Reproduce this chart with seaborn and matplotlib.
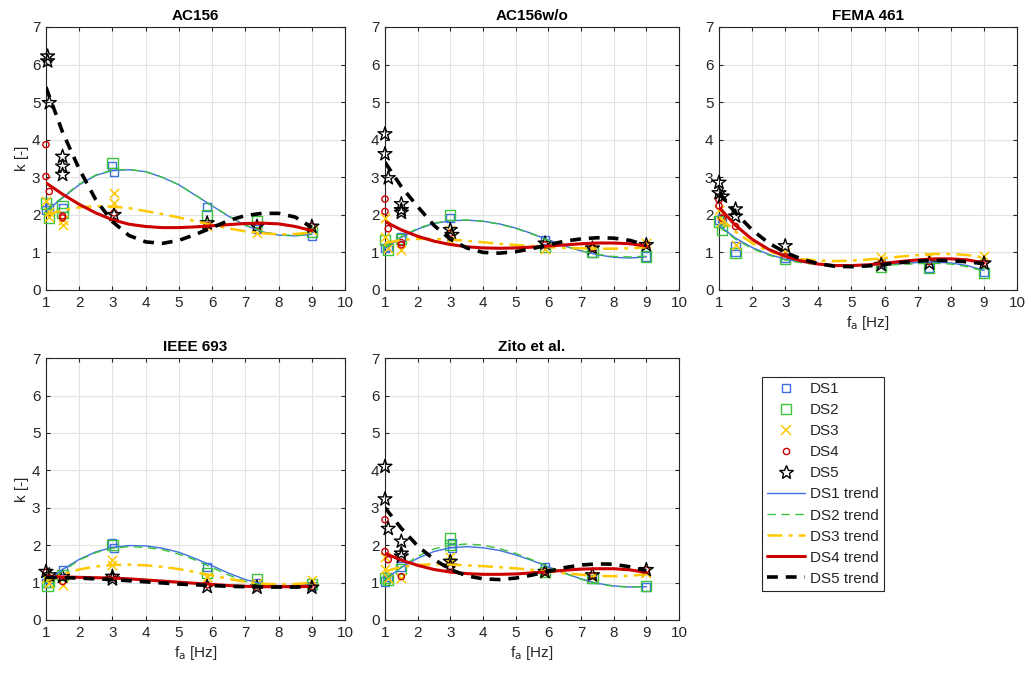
import matplotlib
matplotlib.use("Agg")
import matplotlib.pyplot as plt
from matplotlib.lines import Line2D
import seaborn as sns

sns.set_theme(style="whitegrid")
plt.rcParams["font.family"] = ["Liberation Sans", "DejaVu Sans"]

# -----------------------------
# data
# -----------------------------
series = ["DS1", "DS2", "DS3", "DS4", "DS5"]
panels = ["AC156", "AC156w/o", "FEMA 461", "IEEE 693", "Zito et al."]

# x grid where the trend curves were read
trend_x = [1, 1.5, 2, 2.5, 3, 3.5, 4, 4.5, 5, 5.5, 6, 6.5, 7, 7.5, 8, 8.5, 9]

# measured points: (x, k) per data set
ac156_pts = {
    "DS1": ([1.0, 1.1, 1.5, 3.0, 3.05, 5.85, 7.35, 9.0], [2.13, 2.18, 2.18, 3.29, 3.15, 2.22, 1.62, 1.44]),
    "DS2": ([1.0, 1.1, 1.5, 1.5, 3.0, 5.85, 7.35, 9.0], [2.30, 1.93, 2.22, 2.04, 3.38, 2.00, 1.82, 1.55]),
    "DS3": ([1.0, 1.1, 1.1, 1.5, 1.5, 3.05, 3.05, 5.85, 7.35, 9.0], [2.36, 2.07, 1.95, 1.87, 1.73, 2.58, 2.31, 1.69, 1.52, 1.60]),
    "DS4": ([1.0, 1.0, 1.1, 1.5, 1.5, 3.05, 5.85, 7.35, 9.0], [3.87, 3.02, 2.62, 1.92, 1.97, 2.05, 1.72, 1.70, 1.69]),
    "DS5": ([1.05, 1.05, 1.1, 1.5, 1.5, 1.5, 3.05, 5.85, 7.35, 9.0], [6.22, 6.09, 4.98, 3.55, 3.29, 3.07, 2.00, 1.78, 1.69, 1.69]),
}
ac156_trend = {
    "DS1": [2.10, 2.45, 2.80, 3.05, 3.18, 3.20, 3.15, 3.00, 2.80, 2.52, 2.24, 1.96, 1.72, 1.55, 1.46, 1.44, 1.48],
    "DS2": [2.12, 2.47, 2.82, 3.06, 3.19, 3.21, 3.15, 3.00, 2.80, 2.52, 2.24, 1.97, 1.73, 1.56, 1.47, 1.45, 1.49],
    "DS3": [2.00, 2.12, 2.20, 2.23, 2.22, 2.18, 2.10, 2.02, 1.93, 1.83, 1.73, 1.64, 1.56, 1.51, 1.48, 1.49, 1.53],
    "DS4": [2.85, 2.55, 2.28, 2.05, 1.87, 1.75, 1.69, 1.66, 1.66, 1.68, 1.71, 1.74, 1.77, 1.78, 1.76, 1.69, 1.58],
    "DS5": [5.40, 4.20, 3.22, 2.40, 1.82, 1.45, 1.28, 1.24, 1.32, 1.48, 1.66, 1.85, 1.98, 2.04, 2.04, 1.94, 1.67],
}

acwo_pts = {
    "DS1": ([1.0, 1.1, 1.5, 3.0, 5.9, 7.35, 9.0], [1.11, 1.14, 1.42, 1.91, 1.33, 0.98, 0.89]),
    "DS2": ([1.0, 1.1, 1.5, 3.0, 5.9, 7.35, 9.0], [1.33, 1.08, 1.35, 2.00, 1.16, 1.02, 0.89]),
    "DS3": ([1.0, 1.0, 1.1, 1.5, 3.0, 3.0, 5.9, 7.35, 9.0], [1.91, 1.42, 1.11, 1.07, 1.60, 1.33, 1.08, 1.11, 1.24]),
    "DS4": ([1.0, 1.0, 1.1, 1.5, 1.5, 3.0, 5.9, 7.35, 9.0], [2.42, 2.09, 1.63, 1.20, 1.26, 1.51, 1.20, 1.11, 1.20]),
    "DS5": ([1.0, 1.0, 1.1, 1.5, 1.5, 1.5, 3.0, 3.05, 5.9, 7.35, 9.0], [4.15, 3.62, 2.98, 2.29, 2.13, 2.06, 1.60, 1.47, 1.24, 1.11, 1.20]),
}
acwo_trend = {
    "DS1": [1.10, 1.40, 1.62, 1.77, 1.84, 1.86, 1.83, 1.76, 1.65, 1.50, 1.33, 1.17, 1.04, 0.94, 0.87, 0.85, 0.88],
    "DS2": [1.12, 1.42, 1.64, 1.78, 1.85, 1.86, 1.83, 1.75, 1.64, 1.49, 1.32, 1.17, 1.04, 0.95, 0.89, 0.88, 0.90],
    "DS3": [1.25, 1.33, 1.36, 1.36, 1.34, 1.31, 1.27, 1.23, 1.20, 1.17, 1.14, 1.12, 1.11, 1.10, 1.10, 1.11, 1.14],
    "DS4": [1.82, 1.60, 1.43, 1.30, 1.21, 1.15, 1.12, 1.11, 1.12, 1.14, 1.17, 1.20, 1.23, 1.25, 1.25, 1.23, 1.17],
    "DS5": [3.40, 2.75, 2.22, 1.72, 1.35, 1.12, 1.00, 0.98, 1.02, 1.10, 1.20, 1.30, 1.36, 1.39, 1.38, 1.32, 1.19],
}

fema_pts = {
    "DS1": ([1.0, 1.1, 1.5, 1.5, 3.0, 5.9, 7.35, 9.0], [1.87, 1.91, 1.16, 1.02, 0.84, 0.71, 0.58, 0.49]),
    "DS2": ([1.0, 1.1, 1.5, 3.0, 5.9, 7.35, 9.0], [1.82, 1.60, 0.98, 0.82, 0.62, 0.58, 0.46]),
    "DS3": ([1.0, 1.05, 1.5, 3.0, 5.9, 7.35, 9.0], [2.13, 1.82, 1.20, 1.02, 0.87, 0.89, 0.91]),
    "DS4": ([1.0, 1.0, 1.1, 1.5, 3.0, 5.9, 7.35, 9.0], [2.40, 2.24, 1.91, 1.69, 0.89, 0.71, 0.76, 0.71]),
    "DS5": ([1.0, 1.0, 1.1, 1.5, 1.5, 3.0, 5.9, 7.35, 9.0], [2.86, 2.58, 2.49, 2.15, 1.96, 1.17, 0.67, 0.71, 0.71]),
}
fema_trend = {
    "DS1": [1.72, 1.38, 1.13, 0.95, 0.82, 0.74, 0.69, 0.66, 0.65, 0.66, 0.68, 0.71, 0.73, 0.74, 0.72, 0.65, 0.52],
    "DS2": [1.68, 1.35, 1.10, 0.93, 0.80, 0.72, 0.67, 0.64, 0.63, 0.64, 0.66, 0.68, 0.70, 0.71, 0.69, 0.62, 0.50],
    "DS3": [1.95, 1.55, 1.25, 1.03, 0.90, 0.82, 0.78, 0.77, 0.78, 0.81, 0.85, 0.89, 0.93, 0.96, 0.96, 0.93, 0.86],
    "DS4": [2.20, 1.72, 1.35, 1.08, 0.90, 0.77, 0.69, 0.65, 0.65, 0.67, 0.71, 0.76, 0.80, 0.83, 0.83, 0.80, 0.72],
    "DS5": [2.60, 2.05, 1.60, 1.25, 1.00, 0.82, 0.70, 0.63, 0.62, 0.64, 0.68, 0.73, 0.77, 0.79, 0.78, 0.75, 0.70],
}

ieee_pts = {
    "DS1": ([1.0, 1.1, 1.5, 3.0, 3.05, 5.85, 7.35, 9.0], [0.98, 1.09, 1.34, 2.05, 1.92, 1.41, 0.98, 0.91]),
    "DS2": ([1.05, 1.1, 1.5, 3.0, 5.85, 7.35, 9.0], [0.91, 1.03, 1.20, 2.01, 1.25, 1.09, 0.96]),
    "DS3": ([1.0, 1.1, 1.5, 3.0, 3.0, 5.85, 7.35, 9.0], [1.12, 0.98, 0.94, 1.61, 1.47, 1.16, 0.98, 1.07]),
    "DS4": ([1.0, 1.1, 1.5, 3.0, 5.85, 7.35, 9.0], [1.27, 1.12, 1.03, 1.16, 0.94, 0.87, 0.89]),
    "DS5": ([1.0, 1.1, 1.5, 3.0, 3.0, 5.85, 7.35, 9.0], [1.29, 1.20, 1.16, 1.16, 1.09, 0.89, 0.87, 0.87]),
}
ieee_trend = {
    "DS1": [1.00, 1.35, 1.62, 1.82, 1.94, 1.99, 1.98, 1.92, 1.81, 1.64, 1.45, 1.25, 1.08, 0.97, 0.92, 0.92, 0.95],
    "DS2": [1.00, 1.30, 1.60, 1.80, 1.92, 1.96, 1.94, 1.88, 1.76, 1.60, 1.40, 1.20, 1.03, 0.94, 0.90, 0.91, 0.94],
    "DS3": [1.05, 1.22, 1.35, 1.43, 1.47, 1.48, 1.46, 1.42, 1.36, 1.28, 1.19, 1.10, 1.02, 0.97, 0.95, 0.96, 1.00],
    "DS4": [1.16, 1.15, 1.14, 1.13, 1.12, 1.10, 1.07, 1.04, 1.01, 0.98, 0.95, 0.92, 0.90, 0.89, 0.89, 0.89, 0.90],
    "DS5": [1.14, 1.13, 1.12, 1.10, 1.08, 1.05, 1.02, 0.99, 0.96, 0.94, 0.92, 0.90, 0.89, 0.88, 0.88, 0.88, 0.89],
}

zito_pts = {
    "DS1": ([1.0, 1.1, 1.5, 3.05, 3.05, 5.9, 7.35, 9.0], [1.03, 1.16, 1.43, 2.05, 1.92, 1.41, 1.09, 0.89]),
    "DS2": ([1.0, 1.1, 1.5, 3.0, 3.0, 5.9, 7.35, 9.0], [1.12, 1.07, 1.36, 2.19, 2.01, 1.29, 1.12, 0.91]),
    "DS3": ([1.0, 1.0, 1.1, 1.5, 3.0, 3.0, 5.9, 7.35, 9.0], [1.69, 1.36, 1.12, 1.12, 1.69, 1.56, 1.25, 1.16, 1.25]),
    "DS4": ([1.0, 1.0, 1.1, 1.5, 3.0, 5.9, 7.35, 9.0], [2.68, 1.83, 1.61, 1.16, 1.43, 1.29, 1.18, 1.34]),
    "DS5": ([1.0, 1.0, 1.1, 1.5, 1.5, 1.5, 3.0, 3.0, 5.9, 7.35, 9.0], [4.10, 3.23, 2.44, 2.10, 1.78, 1.70, 1.56, 1.43, 1.29, 1.20, 1.34]),
}
zito_trend = {
    "DS1": [1.08, 1.40, 1.65, 1.83, 1.93, 1.96, 1.93, 1.86, 1.74, 1.59, 1.42, 1.25, 1.10, 0.98, 0.91, 0.88, 0.89],
    "DS2": [1.08, 1.42, 1.70, 1.90, 2.00, 2.03, 2.00, 1.91, 1.78, 1.61, 1.43, 1.25, 1.09, 0.97, 0.90, 0.88, 0.90],
    "DS3": [1.30, 1.42, 1.47, 1.49, 1.48, 1.46, 1.44, 1.41, 1.38, 1.34, 1.30, 1.25, 1.21, 1.18, 1.17, 1.18, 1.22],
    "DS4": [1.78, 1.60, 1.46, 1.35, 1.28, 1.24, 1.22, 1.22, 1.23, 1.26, 1.29, 1.33, 1.36, 1.37, 1.37, 1.34, 1.27],
    "DS5": [3.00, 2.45, 1.98, 1.62, 1.35, 1.18, 1.10, 1.08, 1.12, 1.20, 1.30, 1.40, 1.47, 1.50, 1.49, 1.42, 1.32],
}

all_pts = [ac156_pts, acwo_pts, fema_pts, ieee_pts, zito_pts]
all_trend = [ac156_trend, acwo_trend, fema_trend, ieee_trend, zito_trend]

# -----------------------------
# styles
# -----------------------------
colors = {"DS1": "#3F6FE0", "DS2": "#3DC43D", "DS3": "#FFC800", "DS4": "#CC0000", "DS5": "#000000"}
markers = {"DS1": "s", "DS2": "s", "DS3": "x", "DS4": "o", "DS5": "*"}
msize = {"DS1": 34, "DS2": 55, "DS3": 45, "DS4": 20, "DS5": 110}
leg_msize = {"DS1": 6, "DS2": 7.5, "DS3": 7, "DS4": 4.5, "DS5": 10}
lstyle = {"DS1": "-", "DS2": (0, (6, 4)), "DS3": (0, (6, 2.5, 1.5, 2.5)), "DS4": "-", "DS5": (0, (3, 2.2))}
lwidth = {"DS1": 1.0, "DS2": 1.0, "DS3": 1.8, "DS4": 2.2, "DS5": 2.6}

# axes rectangles (figure fraction)
rects = [
    [0.0447, 0.5704, 0.291, 0.3896],
    [0.3745, 0.5704, 0.286, 0.3896],
    [0.6994, 0.5704, 0.290, 0.3896],
    [0.0447, 0.0815, 0.291, 0.3880],
    [0.3745, 0.0815, 0.286, 0.3880],
]

fig = plt.figure(figsize=(10.28, 6.75), dpi=100)
edge = "#262626"

for i, name in enumerate(panels):
    ax = fig.add_axes(rects[i])
    pts = all_pts[i]
    trend = all_trend[i]
    # measured points (markers not clipped, like MATLAB)
    for ds in series:
        xs, ys = pts[ds]
        if markers[ds] == "x":
            sns.scatterplot(x=xs, y=ys, ax=ax, marker="x", s=msize[ds], color=colors[ds],
                            linewidth=1.1, zorder=3, clip_on=False)
        else:
            sns.scatterplot(x=xs, y=ys, ax=ax, marker=markers[ds], s=msize[ds],
                            facecolor="none", edgecolor=colors[ds], linewidth=1.0, zorder=3,
                            clip_on=False)
    # trend curves
    for ds in series:
        sns.lineplot(x=trend_x, y=trend[ds], ax=ax, color=colors[ds], linestyle=lstyle[ds],
                     linewidth=lwidth[ds], zorder=4)
    ax.set_xlim(1, 10)
    ax.set_ylim(0, 7)
    ax.set_xticks(range(1, 11))
    ax.set_yticks(range(0, 8))
    ax.set_facecolor("white")
    ax.grid(True, color="#E3E3E3", linewidth=0.8)
    for sp in ax.spines.values():
        sp.set_color(edge)
        sp.set_linewidth(0.8)
        sp.set_zorder(2)
    ax.tick_params(direction="in", length=3, width=0.8, colors=edge, labelsize=11, pad=4,
                   top=True, right=True, bottom=True, left=True, labeltop=False, labelright=False)
    ax.set_title(name, fontsize=11, fontweight="bold", color="black", pad=5)
    if i in (0, 3):
        ax.set_ylabel("k [-]", fontsize=11, color=edge, labelpad=2)
    if i in (2, 3, 4):
        ax.set_xlabel(r"f$_\mathrm{a}$ [Hz]", fontsize=11, color=edge, labelpad=3)

# legend in the empty sixth slot
handles = []
for ds in series:
    if markers[ds] == "x":
        handles.append(Line2D([], [], marker="x", linestyle="none", color=colors[ds],
                              markersize=leg_msize[ds], markeredgewidth=1.1, label=ds))
    else:
        handles.append(Line2D([], [], marker=markers[ds], linestyle="none", markerfacecolor="none",
                              markeredgecolor=colors[ds], markersize=leg_msize[ds],
                              markeredgewidth=1.0, label=ds))
for ds in series:
    handles.append(Line2D([], [], color=colors[ds], linestyle=lstyle[ds], linewidth=lwidth[ds],
                          label=f"{ds} trend"))

leg = fig.legend(handles=handles, loc="upper left", bbox_to_anchor=(0.741, 0.4415),
                 fontsize=11, frameon=True, fancybox=False, edgecolor=edge, framealpha=1,
                 handlelength=2.5, handletextpad=0.3, labelspacing=0.46, borderpad=0.35,
                 borderaxespad=0)
leg.get_frame().set_linewidth(0.8)

fig.savefig("out.png", dpi=100, facecolor="white")
